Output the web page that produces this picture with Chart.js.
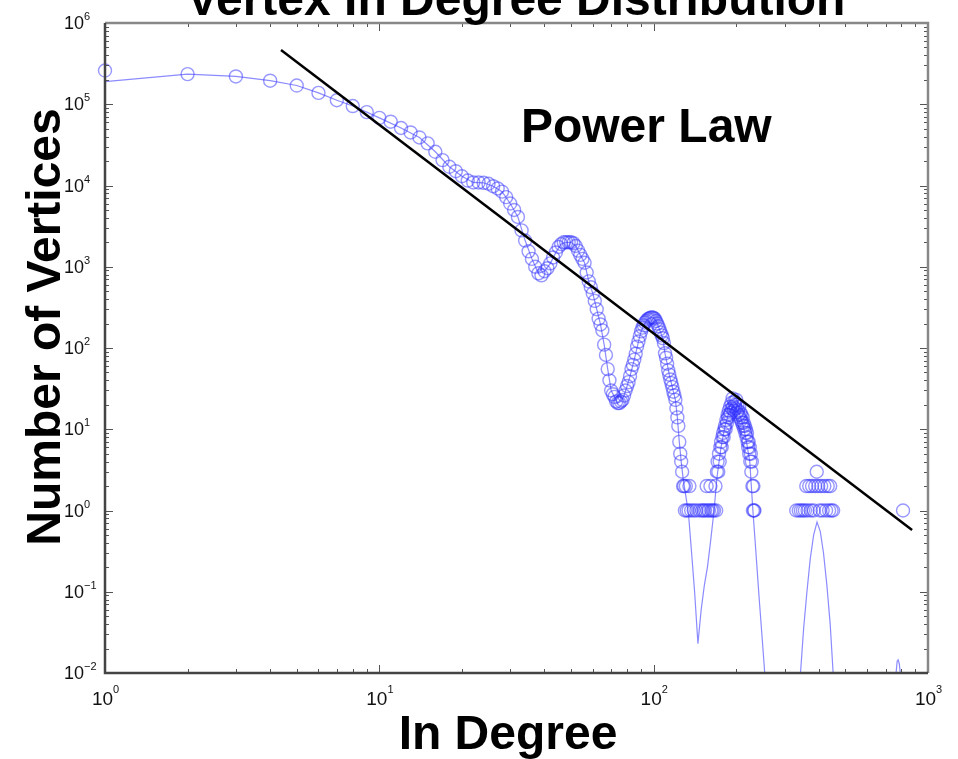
<!DOCTYPE html>
<html>
<head>
<meta charset="utf-8">
<title>Vertex In Degree Distribution</title>
<script src="https://cdn.jsdelivr.net/npm/chart.js@4.4.1/dist/chart.umd.min.js"></script>
<style>
  body { margin: 0; background: #fff; }
  canvas { display: block; }
</style>
</head>
<body>
<canvas id="mycanvas" width="958" height="759"></canvas>
<script>
// measured in-degree counts (circles)
var inDegree = [
  1,2,3,4,5,6,7,8,9,10,
  11,12,13,14,15,16,17,18,19,20,
  21,22,23,24,25,26,27,28,29,30,
  31,32,33,34,35,36,37,38,39,40,
  41,42,43,44,45,46,47,48,49,50,
  51,52,53,54,55,56,57,58,59,60,
  61,62,63,64,65,66,67,68,69,70,
  71,72,73,74,75,76,77,78,79,80,
  81,82,83,84,85,86,87,88,89,90,
  91,92,93,94,95,96,97,98,99,100,
  101,102,103,104,105,106,107,108,109,110,
  111,112,113,114,115,116,117,118,119,120,
  121,122,123,124,125,126,127,128,129,130,
  131,132,134,135,137,140,143,147,
  150,152,154,156,157,159,161,162,164,166,168,169,
  170,171,172,173,174,175,176,177,178,179,
  180,181,182,183,184,185,186,187,188,189,
  190,191,192,193,194,195,196,197,198,199,
  200,201,202,203,204,205,206,207,208,209,
  210,211,212,213,214,215,216,217,218,219,
  220,221,222,223,224,225,226,227,228,229,
  230,231,232,233,
  331,338,344,350,356,360,364,369,374,378,383,388,
  393,398,403,408,413,419,425,431,436,440,445,451,
  811
];
var vertexCount = [
  2.6e5,2.35e5,2.2e5,1.95e5,1.7e5,1.38e5,1.12e5,9.5e4,8.0e4,6.8e4,
  6.1e4,5.1e4,4.5e4,3.9e4,3.3e4,2.6e4,2.05e4,1.7e4,1.5e4,1.3e4,
  1.15e4,1.09e4,1.09e4,1.08e4,1.05e4,9800,9200,8400,7200,6000,
  5000,4100,2800,2100,1550,1250,1000,830,785,880,
  960,1100,1300,1500,1750,1900,2000,2000,2000,2000,
  1950,1800,1580,1400,1250,1120,850,660,560,470,
  380,300,230,195,165,110,82,55,40,30,
  27,25,22,21,21,22,23,26,30,34,
  38,45,55,62,72,85,104,120,140,160,
  178,190,205,215,225,230,235,238,238,235,
  228,215,200,185,170,155,143,132,115,86,
  76,64,53,47,41,37,33,29,26,23,
  18,14,11,7,5,4,3,2,2,1,
  2,1,1,2,1,1,1,1,
  1,1,1,2,1,1,2,1,1,1,2,1,
  3,4,3,5,4,6,7,6,8,9,
  8,10,11,10,13,12,15,14,17,15,
  19,16,21,18,24,19,17,22,20,18,
  23,16,20,17,15,19,14,16,13,15,
  12,14,11,12,10,11,9,10,8,9,
  7,6,7,5,6,4,5,3,4,2,
  1,2,1,1,
  1,1,1,1,1,2,1,2,1,2,1,2,
  3,2,1,2,1,2,1,2,1,2,1,1,
  1
];

// smoothed curve (thin line)
var fitDegree = [
  1,2,3,4,5,6,7,8,9,10,12,14,16,18,20,22,24,26,28,30,
  32,34,36,38,40,42,44,46,48,50,52,54,56,58,60,62,64,66,68,70,
  72,74,76,78,80,82,84,86,88,90,92,94,96,98,100,102,104,106,108,110,
  112,114,116,118,120,122,124,126,128,131,134,137,141,145,149,153,157,161,166,170,
  176,182,188,194,200,206,212,218,224,230,236,242,248,254,262,275,320,335,343,352,
  362,372,383,394,405,416,428,440,451,462,480,740,757,765,772,778,786,795,803,812,900
];
var fitCount = [
  1.9e5,2.35e5,2.2e5,1.95e5,1.7e5,1.38e5,1.12e5,9.5e4,8.0e4,6.8e4,5.1e4,3.9e4,2.6e4,1.7e4,1.3e4,1.09e4,1.08e4,9800,8400,6000,
  4100,2100,1250,830,880,1100,1500,1900,2000,2000,1800,1400,1120,660,470,300,195,110,55,30,
  25,21,22,26,34,45,62,85,120,160,190,215,230,238,235,215,185,155,132,86,
  64,47,37,29,23,14,7,4,2.5,1.5,0.9,0.35,0.1,0.023,0.06,0.12,0.2,0.4,1,2.5,
  6,11,16,19,18,15,11,7,4,1,0.3,0.09,0.03,0.01,0.002,0.0002,0.0001,0.001,0.01,0.035,
  0.1,0.25,0.5,0.72,0.55,0.3,0.12,0.04,0.01,0.002,0.0002,0.0001,0.004,0.01,0.014,0.0145,0.013,0.009,0.004,0.0005,0.0001
];

// power law fit
var powerDegree = [4.38, 875];
var powerCount = [4.65e5, 0.575];

var xDecades = [0, 1, 2, 3];
var yDecades = [-2, -1, 0, 1, 2, 3, 4, 5, 6];

function pairs(xs, ys) {
  var out = [];
  for (var i = 0; i < xs.length; i++) out.push({x: xs[i], y: ys[i]});
  return out;
}

var FONT = '"Liberation Sans", Arial, Helvetica, sans-serif';

function expText(n) {
  return n < 0 ? '\u2212' + (-n) : '' + n;
}

var decorations = {
  id: 'decorations',
  afterDatasetsDraw: function (chart) {
    var ctx = chart.ctx, a = chart.chartArea;
    var xs = chart.scales.x, ys = chart.scales.y;
    ctx.save();

    // tick marks on all four sides, pointing inward
    ctx.strokeStyle = '#555';
    ctx.lineWidth = 1;
    ctx.beginPath();
    for (var i = 0; i < xDecades.length; i++) {
      for (var k = 1; k <= 9; k++) {
        var v = k * Math.pow(10, xDecades[i]);
        if (v < xs.min || v > xs.max) continue;
        var px = Math.round(xs.getPixelForValue(v)) + 0.5;
        var len = k == 1 ? 8 : 4;
        ctx.moveTo(px, a.bottom); ctx.lineTo(px, a.bottom - len);
        ctx.moveTo(px, a.top); ctx.lineTo(px, a.top + len);
      }
    }
    for (var j = 0; j < yDecades.length; j++) {
      for (var m = 1; m <= 9; m++) {
        var w = m * Math.pow(10, yDecades[j]);
        if (w < ys.min * 0.999 || w > ys.max * 1.001) continue;
        var py = Math.round(ys.getPixelForValue(w)) + 0.5;
        var l2 = m == 1 ? 8 : 4;
        ctx.moveTo(a.left, py); ctx.lineTo(a.left + l2, py);
        ctx.moveTo(a.right, py); ctx.lineTo(a.right - l2, py);
      }
    }
    ctx.stroke();

    // box
    ctx.lineWidth = 2.5;
    ctx.strokeStyle = '#888';
    ctx.beginPath();
    ctx.moveTo(a.left, a.top); ctx.lineTo(a.right, a.top); ctx.lineTo(a.right, a.bottom);
    ctx.stroke();
    ctx.strokeStyle = '#444';
    ctx.beginPath();
    ctx.moveTo(a.left, a.top); ctx.lineTo(a.left, a.bottom); ctx.lineTo(a.right, a.bottom);
    ctx.stroke();

    // tick labels 10^n
    ctx.fillStyle = '#111';
    ctx.textBaseline = 'alphabetic';
    for (var p = 0; p < yDecades.length; p++) {
      var yy = ys.getPixelForValue(Math.pow(10, yDecades[p]));
      ctx.font = '18px ' + FONT;
      ctx.textAlign = 'right';
      ctx.fillText('10', 84, yy + 6);
      ctx.font = '11px ' + FONT;
      ctx.textAlign = 'left';
      ctx.fillText(expText(yDecades[p]), 84, yy - 3);
    }
    for (var q = 0; q < xDecades.length; q++) {
      var xx = xs.getPixelForValue(Math.pow(10, xDecades[q]));
      ctx.font = '19px ' + FONT;
      var tw = ctx.measureText('10').width;
      ctx.textAlign = 'left';
      ctx.fillText('10', xx - 2.5 - tw / 2, 705);
      ctx.font = '11px ' + FONT;
      ctx.fillText(expText(xDecades[q]), xx - 2.5 + tw / 2, 693);
    }

    // annotation
    ctx.fillStyle = '#000';
    ctx.font = 'bold 48px ' + FONT;
    ctx.textAlign = 'center';
    ctx.fillText('Power Law', xs.getPixelForValue(94), ys.getPixelForValue(3.4e4));

    // title (cut by the top edge) and axis titles
    ctx.fillText('Vertex In Degree Distribution', 516, 15);
    ctx.fillText('In Degree', 508, 749);
    ctx.save();
    ctx.translate(60, 327);
    ctx.rotate(-Math.PI / 2);
    ctx.fillText('Number of Vertices', 0, 0);
    ctx.restore();

    ctx.restore();
  }
};

var chartdata = {
  datasets: [
    {
      label: 'Power Law',
      data: pairs(powerDegree, powerCount),
      showLine: true,
      borderColor: '#000',
      borderWidth: 2.5,
      pointRadius: 0
    },
    {
      label: 'In Degree',
      data: pairs(inDegree, vertexCount),
      showLine: false,
      pointStyle: 'circle',
      pointRadius: 6.5,
      pointBorderWidth: 1.4,
      pointBorderColor: 'rgba(50,50,255,0.5)',
      pointBackgroundColor: 'rgba(0,0,0,0)',
      clip: false
    },
    {
      label: 'Smoothed',
      data: pairs(fitDegree, fitCount),
      showLine: true,
      borderColor: 'rgba(90,90,255,0.7)',
      borderWidth: 1.2,
      pointRadius: 0
    }
  ]
};

var ctx = document.getElementById('mycanvas');
var chart = new Chart(ctx, {
  type: 'scatter',
  data: chartdata,
  options: {
    responsive: false,
    animation: false,
    devicePixelRatio: 1,
    layout: { padding: { left: 0, right: 30, top: 23, bottom: 0 } },
    plugins: { legend: { display: false }, tooltip: { enabled: false } },
    scales: {
      x: {
        type: 'logarithmic',
        min: 1,
        max: 1000,
        grid: { display: false },
        border: { display: false },
        ticks: { display: false },
        afterFit: function (scale) { scale.height = 86; }
      },
      y: {
        type: 'logarithmic',
        min: 0.01,
        max: 1e6,
        grid: { display: false },
        border: { display: false },
        ticks: { display: false },
        afterFit: function (scale) { scale.width = 105; }
      }
    }
  },
  plugins: [decorations]
});
</script>
</body>
</html>
